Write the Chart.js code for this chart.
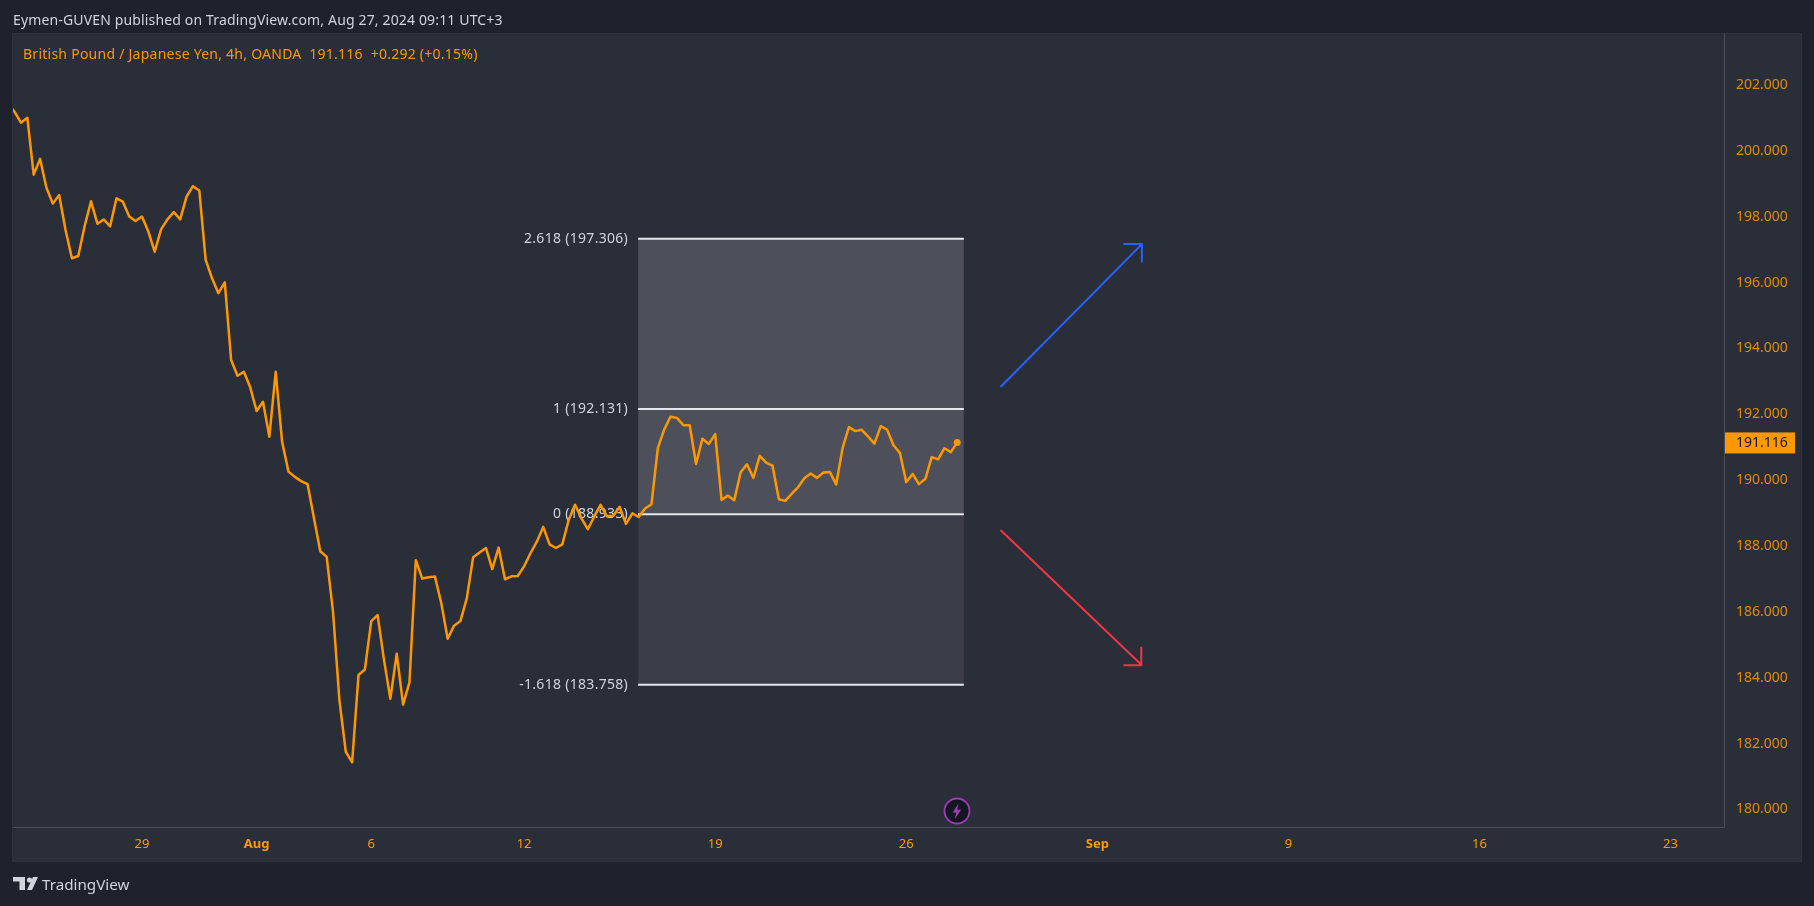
<!DOCTYPE html>
<html><head><meta charset="utf-8">
<style>
html,body{margin:0;padding:0;background:#1e222d;width:1814px;height:906px;overflow:hidden}
#panel{position:absolute;left:12px;top:33px;width:1790px;height:829px;box-sizing:border-box;border:1px solid #2f323d;background:#2a2e39}
canvas{position:absolute;left:0;top:0}
.t{position:absolute;white-space:pre;font-family:"Noto Sans",sans-serif}
svg{position:absolute}
</style></head><body>
<div id="panel"></div>
<canvas id="c" width="1814" height="906"></canvas>
<div class="t" id="hdr" style="left:13px;top:10px;font-size:14px;letter-spacing:.15px;line-height:19px;color:#d1d4dc">Eymen-GUVEN published on TradingView.com, Aug 27, 2024 09:11 UTC+3</div>
<div class="t" id="leg" style="left:23px;top:44px;font-size:14px;letter-spacing:.25px;line-height:19px;color:#ff9800">British Pound / Japanese Yen, 4h, OANDA  191.116  +0.292 (+0.15%)</div>
<svg style="left:13px;top:876px" width="26" height="15" viewBox="0 0 26 15"><path fill="#d1d4dc" d="M0 1h12v13H6.500V5.500H0z"/><circle cx="16.500" cy="4" r="2.600" fill="#d1d4dc"/><path fill="#d1d4dc" d="M20 1h5l-6 13h-5z"/></svg>
<div class="t" style="left:42px;top:873px;font-size:15.200px;line-height:22px;color:#d1d4dc">TradingView</div>
<svg style="left:943px;top:797px" width="28" height="28" viewBox="0 0 28 28"><circle cx="14" cy="14" r="12.500" fill="#131722" stroke="#a23ab8" stroke-width="1.800"/><path fill="#a23ab8" d="M15.500 6.500 9.500 15.500h3.700l-1.300 6.500 6.200-9.300h-3.800z"/></svg>
<script src="https://cdn.jsdelivr.net/npm/chart.js@4/dist/chart.umd.min.js"></script>
<script>
const prices=[201.40,201.16,200.83,200.98,199.25,199.73,198.85,198.37,198.63,197.57,
196.71,196.78,197.69,198.44,197.76,197.89,197.68,198.53,198.43,197.98,
197.84,197.98,197.52,196.91,197.59,197.89,198.11,197.89,198.58,198.90,
198.77,196.66,196.10,195.65,195.98,193.62,193.14,193.26,192.79,192.07,
192.35,191.29,193.26,191.14,190.23,190.07,189.94,189.85,188.82,187.81,
187.64,185.97,183.29,181.72,181.40,184.05,184.22,185.69,185.87,184.51,
183.33,184.70,183.15,183.83,187.54,186.98,187.02,187.04,186.23,185.15,
185.55,185.69,186.38,187.63,187.77,187.91,187.27,187.92,186.96,187.05,
187.06,187.35,187.75,188.10,188.55,188.02,187.91,188.02,188.76,189.22,
188.81,188.48,188.86,189.22,188.87,188.89,189.16,188.64,188.96,188.85,
189.11,189.24,190.94,191.51,191.90,191.86,191.64,191.64,190.46,191.23,
191.07,191.37,189.37,189.50,189.36,190.21,190.45,190.04,190.71,190.50,
190.41,189.39,189.34,189.55,189.75,190.03,190.17,190.04,190.20,190.22,
189.84,190.94,191.58,191.46,191.50,191.30,191.08,191.61,191.50,191.03,
190.80,189.91,190.16,189.85,190.01,190.67,190.60,190.94,190.82,191.116];
const xTickBars=[21,39,57,81,111,141,171,201,231,261];
const xTickLabels=["29","Aug","6","12","19","26","Sep","9","16","23"];
const boldLabels=["Aug","Sep"];
const yTickValues=[180,182,184,186,188,190,192,194,196,198,200,202];
const fibLevels=[2.618,1,0,-1.618];
const fibPrices=[197.306,192.131,188.933,183.758];
const fibBars=[98.9,150.05];
const upArrowShaft=[[155.8,192.80],[178,197.14]];
const upArrowHead=[[175.1,197.14],[178,197.14],[178,196.59]];
const downArrowShaft=[[155.8,188.455],[178,184.345]];
const downArrowHead=[[175.1,184.345],[178,184.345],[177.9,184.91]];
const lastPrice=191.116;

const ORANGE="#ff9800",FONT='"Noto Sans",sans-serif';
const pts=a=>a.map(p=>({x:p[0],y:p[1]}));
const lvl=y=>fibBars.map(x=>({x,y}));
const fibLine=y=>({data:lvl(y),borderColor:"#e4e6ee",borderWidth:2,pointRadius:0,order:3});
const arrow=(a,c)=>({data:pts(a),borderColor:c,borderWidth:2,pointRadius:0,order:2,borderJoinStyle:"miter"});

const overlay={id:"overlay",
 beforeDraw(ch){
  const s=ch.scales.y;
  if(!s._shifted){s.getLabelItems(ch.chartArea).forEach(i=>{i.options.translation[1]+=1});s._shifted=true}
 },
 beforeDatasetsDraw(ch){
  const c=ch.ctx,y=ch.scales.y,x=ch.scales.x;
  c.save();c.font="14px "+FONT;c.letterSpacing="0.3px";c.fillStyle="#d1d4dc";c.textAlign="right";c.textBaseline="middle";
  fibLevels.forEach((l,i)=>c.fillText(l+" ("+fibPrices[i].toFixed(3)+")",x.getPixelForValue(fibBars[0])-10,y.getPixelForValue(fibPrices[i])));
  c.restore();
 },
 afterDraw(ch){
  const c=ch.ctx,y=ch.scales.y,py=y.getPixelForValue(lastPrice),a=ch.chartArea;
  c.save();c.fillStyle=ORANGE;c.fillRect(a.right+1,py-10,70,21);
  c.font="14px "+FONT;c.fillStyle="#131722";c.textAlign="left";c.textBaseline="middle";
  c.fillText(lastPrice.toFixed(3),a.right+12,py+1);c.restore();
 }};

new Chart(document.getElementById("c"),{type:"line",
 data:{datasets:[
  {label:"GBPJPY",data:prices.map((v,i)=>({x:i,y:v})),borderColor:ORANGE,borderWidth:2.5,
   pointRadius:c=>c.dataIndex===prices.length-1?3.5:0,pointBackgroundColor:ORANGE,pointBorderWidth:0,
   borderJoinStyle:"round",tension:0,order:1},
  arrow(upArrowShaft,"#2962ff"),arrow(upArrowHead,"#2962ff"),
  arrow(downArrowShaft,"#f23645"),arrow(downArrowHead,"#f23645"),
  ...fibPrices.map(fibLine),
  {data:lvl(fibPrices[0]),borderWidth:0,pointRadius:0,fill:{value:fibPrices[2]},backgroundColor:"#4d4f5a",order:5},
  {data:lvl(fibPrices[3]),borderWidth:0,pointRadius:0,fill:{value:fibPrices[2]},backgroundColor:"#3b3d48",order:5}
 ]},
 plugins:[overlay],
 options:{responsive:false,animation:false,parsing:true,
  layout:{padding:{left:13,top:33,right:12,bottom:44}},
  plugins:{legend:{display:false},tooltip:{enabled:false},title:{display:false}},
  scales:{
   x:{type:"linear",min:0.75,max:269.4,
    afterFit:s=>{s.height=35},
    afterBuildTicks:s=>{s.ticks=xTickBars.map(value=>({value}))},
    grid:{display:false,drawTicks:false},
    border:{display:true,color:"#4a4d57",width:1},
    ticks:{autoSkip:false,maxRotation:0,minRotation:0,padding:9,color:ORANGE,
     callback:v=>xTickLabels[xTickBars.indexOf(v)],
     font:c=>({family:FONT,size:13,weight:boldLabels.includes(xTickLabels[c.index])?"bold":"normal"})}},
   y:{type:"linear",position:"right",min:179.434,max:203.553,
    afterFit:s=>{s.width=78},
    afterBuildTicks:s=>{s.ticks=yTickValues.map(value=>({value}))},
    grid:{display:false,drawTicks:false},
    border:{display:true,color:"#4a4d57",width:1},
    ticks:{autoSkip:false,padding:12,color:"#e08a0c",align:"center",crossAlign:"near",
     callback:v=>v.toFixed(3),font:{family:FONT,size:14}}}
  }}});
</script>
</body></html>
